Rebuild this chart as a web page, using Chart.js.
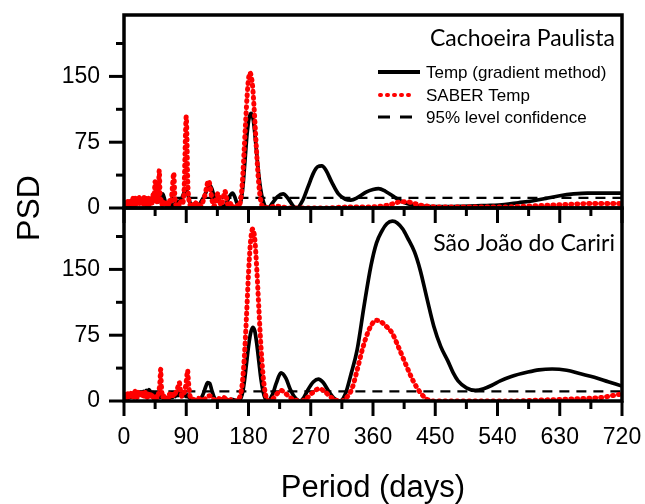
<!DOCTYPE html>
<html>
<head>
<meta charset="utf-8">
<script src="https://cdn.jsdelivr.net/npm/chart.js@4.4.1/dist/chart.umd.min.js"></script>
<style>
  html, body { margin: 0; padding: 0; background: #fff; }
  #c { display: block; }
</style>
</head>
<body>
<canvas id="c" width="645" height="504"></canvas>
<script>
// Period axis and PSD axis labels
const periodTicks = [0, 90, 180, 270, 360, 450, 540, 630, 720];
const psdTicks = [0, 75, 150];
const psdMax = 220;

// Cachoeira Paulista: [period (days), PSD]
const cpGradient = [[2,1],[4,3],[6,2],[8,5],[10,3],[12,6],[14,4],[16,7],[18,5],[20,8],[22,6],[24,9],[26,7],[28,8],[30,6],[32,9],[34,7],[36,10],[38,8],[40,11],[42,9],[44,12],[46,8],[48,10],[50,7],[52,12],[54,14],[56,16],[58,12],[60,6],[62,3],[64,1],[66,0],[68,2],[70,4],[72,3],[74,6],[76,5],[78,8],[80,6],[82,9],[84,12],[86,16],[88,19],[90,21],[92,17],[94,10],[96,5],[98,3],[100,2],[103,0],[106,1],[109,4],[112,8],[115,12],[118,17],[121,23],[124,26],[127,22],[130,14],[133,8],[136,10],[139,7],[142,3],[145,1],[148,5],[151,11],[154,15],[157,17],[160,13],[163,6],[166,3],[169,8],[172,25],[175,55],[178,85],[181,103],[184,108],[187,100],[190,78],[193,52],[196,30],[199,15],[202,6],[205,1],[208,0],[215,6],[222,13],[230,16],[238,10],[245,2],[250,0],[258,8],[266,24],[274,40],[280,47],[286,48],[292,43],[300,30],[310,16],[320,10],[328,9],[338,12],[350,18],[360,21],[368,22],[378,19],[390,13],[400,8],[410,5],[420,3],[435,2],[450,1.5],[470,1.5],[490,2],[510,2.5],[530,3],[550,4],[570,6],[590,8],[610,11],[630,14],[650,16],[670,17],[690,17],[720,17]];
const cpSaber = [[1,2],[2,5],[3,1],[4,7],[5,3],[6,9],[7,2],[8,6],[9,10],[10,3],[11,8],[12,4],[13,11],[14,2],[15,7],[16,12],[17,4],[18,9],[19,3],[20,10],[21,6],[22,12],[23,4],[24,8],[25,11],[26,5],[27,9],[28,3],[29,12],[30,7],[31,10],[32,4],[33,12],[34,6],[35,11],[36,3],[37,9],[38,13],[39,5],[40,10],[41,4],[42,15],[43,9],[44,18],[45,30],[46,12],[47,5],[48,9],[49,14],[50,25],[51,43],[52,18],[53,6],[54,10],[55,4],[56,8],[57,3],[58,6],[60,2],[62,7],[64,3],[66,9],[68,5],[69,14],[70,24],[72,40],[73,22],[74,8],[76,3],[78,6],[80,2],[82,7],[84,4],[86,10],[87,22],[88,55],[90,104],[91,80],[92,35],[94,8],[96,3],[98,1],[100,4],[102,1],[104,6],[106,2],[108,5],[110,1],[112,3],[114,7],[116,12],[118,18],[120,26],[122,31],[124,27],[126,16],[128,6],[130,2],[132,5],[134,13],[136,17],[138,10],[140,3],[142,6],[144,14],[146,19],[148,12],[150,4],[152,2],[154,5],[156,1],[158,0],[160,2],[162,1],[164,3],[166,1],[168,6],[170,18],[172,40],[174,70],[176,100],[178,128],[180,147],[182,154],[184,150],[186,138],[188,115],[190,88],[192,60],[194,36],[196,18],[198,7],[200,2],[203,0],[210,1],[220,2],[230,1],[240,0],[260,0],[290,0],[320,1],[350,1],[370,2],[380,3],[390,5],[400,7],[410,7],[420,5],[430,3],[440,2],[460,1],[500,1],[540,1],[580,2],[610,3],[640,4],[670,5],[700,5],[720,5]];
const cpConfidence = 11.5;
const cpConfidenceFrom = 18;

// São João do Cariri: [period (days), PSD]
const sjGradient = [[2,2],[4,5],[6,3],[8,6],[10,4],[12,7],[14,5],[16,8],[18,6],[20,9],[22,7],[24,10],[26,8],[28,11],[30,9],[32,12],[34,10],[36,13],[38,11],[40,9],[42,10],[44,7],[46,9],[48,5],[50,8],[52,4],[54,7],[56,3],[58,5],[60,2],[62,4],[64,1],[66,3],[68,6],[70,4],[72,8],[74,5],[76,9],[78,6],[80,10],[82,7],[84,9],[86,6],[88,8],[90,5],[92,7],[94,4],[96,3],[98,2],[100,1],[103,0],[106,1],[109,2],[112,4],[115,9],[118,16],[121,21],[124,20],[127,12],[130,5],[133,1],[136,0],[140,1],[144,3],[148,2],[152,1],[156,2],[160,1],[164,0],[168,2],[171,8],[174,22],[177,42],[180,62],[183,77],[186,84],[189,80],[192,65],[195,45],[198,25],[201,11],[204,3],[207,0],[210,1],[215,8],[220,20],[227,32],[234,26],[240,14],[247,4],[254,0],[260,4],[266,13],[274,22],[281,25],[288,21],[296,11],[304,3],[312,0],[320,8],[328,30],[337,58],[347,108],[357,154],[365,180],[373,194],[380,202],[388,205],[395,203],[403,196],[410,186],[420,170],[428,150],[438,117],[448,85],[458,62],[468,46],[476,32],[483,23],[495,15],[508,12],[520,14],[532,18],[544,23],[560,28],[584,33],[600,35.5],[619,36.5],[640,35],[660,31],[680,27],[700,22],[720,17]];
const sjSaber = [[1,3],[2,6],[3,2],[4,8],[5,4],[6,10],[7,3],[8,7],[9,11],[10,4],[11,9],[12,5],[13,10],[14,3],[15,8],[16,11],[17,5],[18,9],[19,4],[20,10],[21,6],[22,12],[23,5],[24,9],[25,11],[26,6],[27,10],[28,4],[29,9],[30,7],[31,10],[32,5],[33,8],[34,4],[35,9],[36,5],[37,8],[38,3],[39,7],[40,4],[41,6],[42,3],[43,5],[44,2],[46,6],[48,3],[50,9],[52,22],[53,36],[54,18],[56,4],[58,7],[60,3],[62,6],[64,2],[66,8],[68,4],[70,10],[72,5],[74,8],[76,12],[78,16],[80,21],[82,10],[84,5],[86,8],[88,12],[90,22],[92,35],[93,24],[95,8],[97,3],[100,2],[104,1],[108,3],[112,1],[116,2],[120,4],[124,6],[128,3],[132,1],[136,3],[140,2],[144,4],[148,2],[152,1],[156,2],[160,0],[164,1],[168,6],[171,20],[174,50],[177,95],[180,145],[183,182],[186,196],[189,185],[192,150],[195,105],[198,62],[201,30],[204,10],[207,2],[210,0],[216,3],[222,9],[227,12],[233,9],[240,4],[248,1],[256,0],[264,3],[272,9],[282,14],[290,11],[298,5],[306,1],[314,0],[322,4],[330,15],[337,35],[345,60],[352,77],[358,87],[364,92],[370,91],[378,86],[388,77],[396,63],[403,50],[410,37],[418,23],[428,10],[438,2],[450,0],[480,0],[520,0],[560,0],[600,1],[640,2],[670,3],[690,4],[705,6],[720,8]];
const sjConfidence = 11;
const sjConfidenceFrom = 15;

const legendLabels = ['Temp (gradient method)', 'SABER Temp', '95% level confidence'];
const stationNames = ['Cachoeira Paulista', 'São João do Cariri'];

const toPoints = rows => rows.map(([x, y]) => ({x, y}));
const levelLine = (from, level) => [{x: from, y: level}, {x: 720, y: level}];

const gradientStyle = { borderColor: '#000000', borderWidth: 3.7, borderDash: [], borderCapStyle: 'butt' };
const saberStyle = { borderColor: '#ff0000', borderWidth: 5, borderDash: [1, 5], borderCapStyle: 'round' };
const levelStyle = { borderColor: '#000000', borderWidth: 2.2, borderDash: [10, 7], borderCapStyle: 'butt' };

function series(label, rows, style, yAxisID, order) {
  return Object.assign({
    label, data: rows, yAxisID, order,
    pointRadius: 0, fill: false,
    cubicInterpolationMode: 'monotone',
    borderJoinStyle: 'round'
  }, style);
}

const datasets = [
  series(legendLabels[2], levelLine(cpConfidenceFrom, cpConfidence), levelStyle, 'yTop', 2),
  series(legendLabels[0], toPoints(cpGradient), gradientStyle, 'yTop', 1),
  series(legendLabels[1], toPoints(cpSaber), saberStyle, 'yTop', 0),
  series(legendLabels[2], levelLine(sjConfidenceFrom, sjConfidence), levelStyle, 'yBottom', 2),
  series(legendLabels[0], toPoints(sjGradient), gradientStyle, 'yBottom', 1),
  series(legendLabels[1], toPoints(sjSaber), saberStyle, 'yBottom', 0)
];

const tickFont = { family: '"Liberation Sans", Arial, sans-serif', size: 23 };

// no extra room around the plot for half-height labels
function noLabelPadding(s) {
  s.paddingTop = 0; s.paddingBottom = 0; s.paddingLeft = 0; s.paddingRight = 0;
}

function psdAxis() {
  return {
    type: 'linear', position: 'left', stack: 'psd', stackWeight: 1,
    min: 0, max: psdMax,
    grid: { display: false, drawTicks: false, tickLength: 0 },
    border: { display: false },
    ticks: {
      stepSize: 37.5, includeBounds: false, autoSkip: false,
      padding: 24, color: '#000', font: tickFont,
      callback: v => psdTicks.includes(v) ? String(v) : ''
    },
    afterFit: s => { s.width = 124; noLabelPadding(s); }
  };
}

// Frames, tick marks, axis titles, station names and legend
const decorations = {
  id: 'decorations',
  afterDraw(chart) {
    const { ctx, chartArea: area, scales } = chart;
    const xs = scales.x;
    const panels = [scales.yTop, scales.yBottom];
    ctx.save();
    ctx.strokeStyle = '#000';
    ctx.fillStyle = '#000';
    ctx.lineCap = 'butt';

    ctx.lineWidth = 3;
    panels.forEach(p => {
      xs.ticks.forEach(t => {
        const px = xs.getPixelForValue(t.value);
        const len = periodTicks.includes(t.value) ? 15 : 8;
        ctx.beginPath();
        ctx.moveTo(px, p.bottom);
        ctx.lineTo(px, p.bottom + len);
        ctx.stroke();
      });
      p.ticks.forEach(t => {
        const py = p.getPixelForValue(t.value);
        const len = psdTicks.includes(t.value) ? 15 : 8;
        ctx.beginPath();
        ctx.moveTo(area.left, py);
        ctx.lineTo(area.left - len, py);
        ctx.stroke();
      });
    });

    ctx.lineWidth = 3.5;
    panels.forEach(p => {
      ctx.strokeRect(area.left, p.top, area.right - area.left, p.bottom - p.top);
    });

    // axis titles
    ctx.font = '32px "Liberation Sans", Arial, sans-serif';
    ctx.textAlign = 'center';
    ctx.textBaseline = 'middle';
    ctx.save();
    ctx.translate(30, (area.top + area.bottom) / 2);
    ctx.rotate(-Math.PI / 2);
    ctx.fillText('PSD', 0, 0);
    ctx.restore();
    ctx.font = '31px "Liberation Sans", Arial, sans-serif';
    ctx.textBaseline = 'alphabetic';
    ctx.fillText('Period (days)', (area.left + area.right) / 2, 497);

    // station names
    ctx.font = '23px Lato, "Open Sans", sans-serif';
    ctx.textAlign = 'right';
    ctx.fillText(stationNames[0], area.right - 7, panels[0].top + 31);
    ctx.fillText(stationNames[1], area.right - 7, panels[1].top + 43);

    // legend
    const styles = [gradientStyle, saberStyle, levelStyle];
    const rowsY = [72, 95, 117];
    const sampleEnd = [420, 413, 413];
    const sampleDash = [[], [1, 6], [12, 10]];
    const sampleWidth = [4, 4, 3];
    ctx.font = '17px "Liberation Sans", Arial, sans-serif';
    ctx.textAlign = 'left';
    ctx.textBaseline = 'middle';
    styles.forEach((st, i) => {
      ctx.strokeStyle = st.borderColor;
      ctx.lineWidth = sampleWidth[i];
      ctx.lineCap = st.borderCapStyle;
      ctx.setLineDash(sampleDash[i]);
      ctx.beginPath();
      ctx.moveTo(i === 1 ? 380 : 378, rowsY[i]);
      ctx.lineTo(sampleEnd[i], rowsY[i]);
      ctx.stroke();
      ctx.setLineDash([]);
      ctx.fillText(legendLabels[i], 426, rowsY[i] + 1);
    });
    ctx.restore();
  }
};

new Chart(document.getElementById('c'), {
  type: 'line',
  data: { datasets },
  options: {
    responsive: false,
    animation: false,
    events: [],
    layout: { padding: { left: 0, right: 23, top: 15, bottom: 0 } },
    plugins: { legend: { display: false }, tooltip: { enabled: false } },
    scales: {
      x: {
        type: 'linear', position: 'bottom',
        min: 0, max: 720,
        grid: { display: false, drawTicks: false, tickLength: 0 },
        border: { display: false },
        ticks: {
          stepSize: 45, autoSkip: false, maxRotation: 0,
          padding: 23, color: '#000', font: tickFont,
          callback: v => periodTicks.includes(v) ? String(v) : ''
        },
        afterFit: s => { s.height = 103; noLabelPadding(s); }
      },
      yBottom: psdAxis(),
      yTop: psdAxis()
    }
  },
  plugins: [decorations]
});
</script>
</body>
</html>
